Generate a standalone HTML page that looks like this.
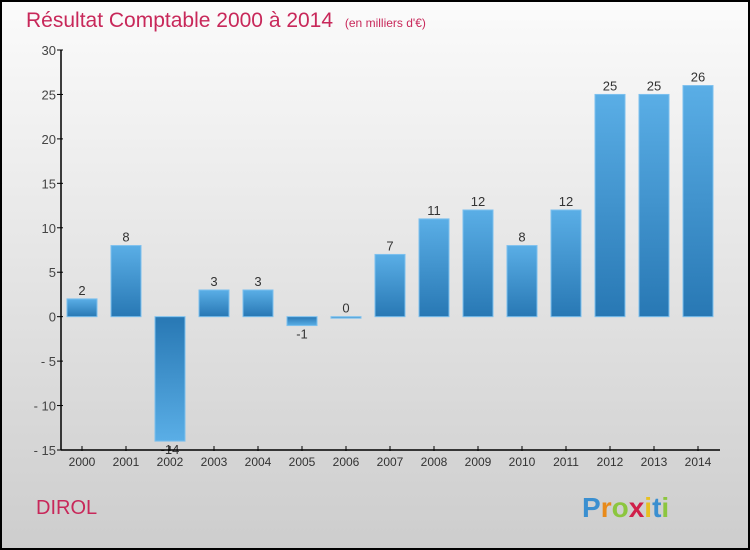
<!DOCTYPE html>
<html><head><meta charset="utf-8"><style>
body{margin:0}
svg{display:block;font-family:"Liberation Sans",sans-serif}
</style></head><body>
<svg id="c" width="750" height="550" xmlns="http://www.w3.org/2000/svg">
<defs>
<linearGradient id="bg" x1="0" y1="0" x2="0" y2="1"><stop offset="0" stop-color="#fbfbfb"/><stop offset="1" stop-color="#cdcdcd"/></linearGradient>
<linearGradient id="bp" x1="0" y1="0" x2="0" y2="1"><stop offset="0" stop-color="#5aaee6"/><stop offset="1" stop-color="#2878b4"/></linearGradient>
<linearGradient id="bn" x1="0" y1="0" x2="0" y2="1"><stop offset="0" stop-color="#2878b4"/><stop offset="1" stop-color="#5aaee6"/></linearGradient>
</defs>
<rect x="1" y="1" width="748" height="548" fill="url(#bg)" stroke="#000" stroke-width="2"/>
<text x="26" y="27" font-size="21" fill="#c8285a">Résultat Comptable 2000 à 2014 <tspan font-size="12" dx="6">(en milliers d'€)</tspan></text>
<text x="36" y="514" font-size="20" fill="#c8285a">DIROL</text>
<g font-size="28" font-weight="bold">
<text x="582" y="517"><tspan fill="#3a8fd0">P</tspan><tspan fill="#e88a1a">r</tspan><tspan fill="#8cc63f">o</tspan><tspan fill="#d0204a">x</tspan><tspan fill="#e8c020">i</tspan><tspan fill="#3a8fd0">t</tspan><tspan fill="#8cc63f">i</tspan></text>
</g>
<g id="plot"></g>
</svg>
<script>
const categories=["2000","2001","2002","2003","2004","2005","2006","2007","2008","2009","2010","2011","2012","2013","2014"];
const values=[2,8,-14,3,3,-1,0,7,11,12,8,12,25,25,26];
const yTicks=[-15,-10,-5,0,5,10,15,20,25,30];
const NS="http://www.w3.org/2000/svg";
const plotG=document.getElementById('plot');
const yMin=-15,yMax=30,plotTop=50,plotBot=450,axX=61;
const yS=v=>plotBot-(v-yMin)/(yMax-yMin)*(plotBot-plotTop);
const xS=i=>82+i*44;
function mk(t,a){const e=document.createElementNS(NS,t);for(const k in a)e.setAttribute(k,a[k]);plotG.appendChild(e);return e;}
yTicks.forEach(t=>{
 const l=mk('line',{x1:axX-4,x2:axX+2,y1:yS(t),y2:yS(t),stroke:'#000'});
 
 
 const tx=mk('text',{x:axX-5,y:yS(t)+5,'text-anchor':'end','font-size':13,fill:'#444'});
 tx.textContent=String(t).replace('-','- ');
 
 
});
values.forEach((v,i)=>{
 const y0=yS(0),y1=yS(v);
 const r=mk('rect',{x:xS(i)-15,y:Math.min(y0,y1),width:30,height:Math.max(Math.abs(y1-y0),1.5),fill:v>=0?'url(#bp)':'url(#bn)',stroke:'#7cc0ee','stroke-width':1});
 
 
 const lt=mk('text',{x:xS(i),y:v>=0?y1-4:y1+13,'text-anchor':'middle','font-size':13,fill:'#333'});
 lt.textContent=v;
 
 
 const tk=mk('line',{x1:xS(i),x2:xS(i),y1:plotBot-4,y2:plotBot+1,stroke:'#000'});
 
 
 const xl=mk('text',{x:xS(i),y:plotBot+16,'text-anchor':'middle','font-size':12,fill:'#333'});
 xl.textContent=categories[i];
 
 
});
const ya=mk('line',{x1:axX,x2:axX,y1:plotTop,y2:plotBot,stroke:'#000','stroke-width':1.5});


const xa=mk('line',{x1:axX,x2:720,y1:plotBot,y2:plotBot,stroke:'#000','stroke-width':1.5});


</script>
</body></html>
